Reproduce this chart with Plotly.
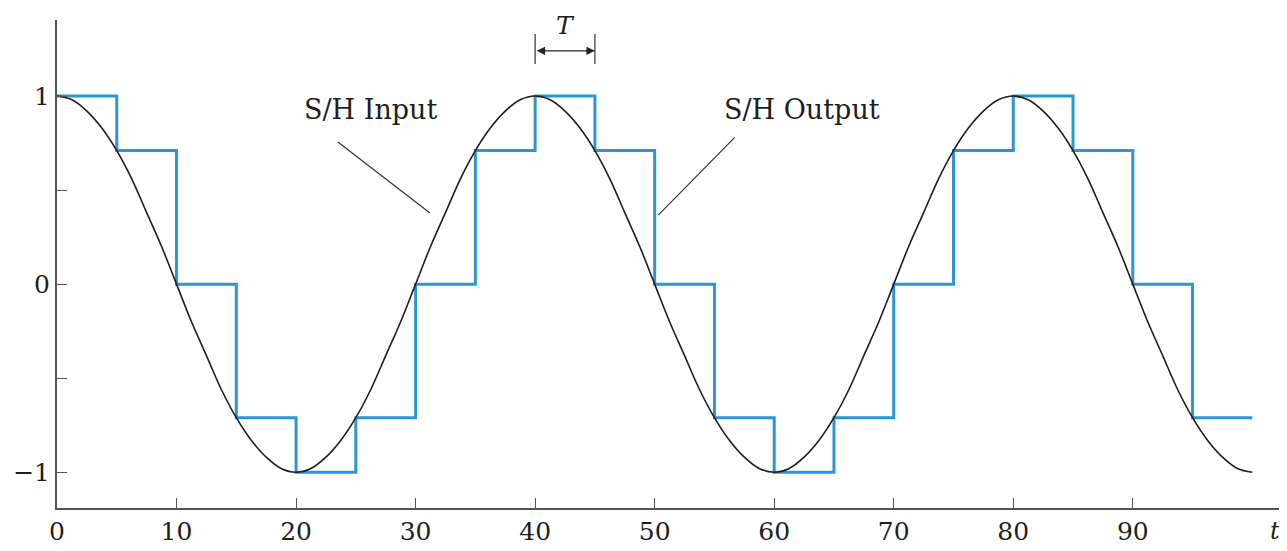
import plotly.graph_objects as go

# Sample-and-hold output (sample instants every T = 5)
sample_t = [0, 5, 10, 15, 20, 25, 30, 35, 40, 45, 50, 55, 60, 65, 70, 75, 80, 85, 90, 95, 100]
held_values = [1, 0.71, 0, -0.71, -1, -0.71, 0, 0.71, 1, 0.71, 0, -0.71, -1, -0.71, 0, 0.71, 1, 0.71, 0, -0.71, -0.71]

# Input signal at every 1.25 time units
input_t = [0, 1.25, 2.5, 3.75, 5, 6.25, 7.5, 8.75, 10,
           11.25, 12.5, 13.75, 15, 16.25, 17.5, 18.75, 20,
           21.25, 22.5, 23.75, 25, 26.25, 27.5, 28.75, 30,
           31.25, 32.5, 33.75, 35, 36.25, 37.5, 38.75, 40,
           41.25, 42.5, 43.75, 45, 46.25, 47.5, 48.75, 50,
           51.25, 52.5, 53.75, 55, 56.25, 57.5, 58.75, 60,
           61.25, 62.5, 63.75, 65, 66.25, 67.5, 68.75, 70,
           71.25, 72.5, 73.75, 75, 76.25, 77.5, 78.75, 80,
           81.25, 82.5, 83.75, 85, 86.25, 87.5, 88.75, 90,
           91.25, 92.5, 93.75, 95, 96.25, 97.5, 98.75, 100]
input_values = [1, 0.98, 0.92, 0.83, 0.71, 0.56, 0.38, 0.2, 0,
                -0.2, -0.38, -0.56, -0.71, -0.83, -0.92, -0.98, -1,
                -0.98, -0.92, -0.83, -0.71, -0.56, -0.38, -0.2, 0,
                0.2, 0.38, 0.56, 0.71, 0.83, 0.92, 0.98, 1,
                0.98, 0.92, 0.83, 0.71, 0.56, 0.38, 0.2, 0,
                -0.2, -0.38, -0.56, -0.71, -0.83, -0.92, -0.98, -1,
                -0.98, -0.92, -0.83, -0.71, -0.56, -0.38, -0.2, 0,
                0.2, 0.38, 0.56, 0.71, 0.83, 0.92, 0.98, 1,
                0.98, 0.92, 0.83, 0.71, 0.56, 0.38, 0.2, 0,
                -0.2, -0.38, -0.56, -0.71, -0.83, -0.92, -0.98, -1]

x_tick_vals = [0, 10, 20, 30, 40, 50, 60, 70, 80, 90]
x_tick_text = ["0", "10", "20", "30", "40", "50", "60", "70", "80", "90"]
y_tick_vals = [-1, -0.5, 0, 0.5, 1]
y_tick_text = ["\u22121", "", "0", "", "1"]

FONT = "DejaVu Serif"
BLUE = "rgb(45,150,210)"
INK = "#1e1e1e"

fig = go.Figure()
fig.add_trace(go.Scatter(x=sample_t, y=held_values, mode="lines", line=dict(shape="hv", color=BLUE, width=3),
                         showlegend=False, hoverinfo="skip"))
fig.add_trace(go.Scatter(x=input_t, y=input_values, mode="lines",
                         line=dict(shape="spline", smoothing=1.0, color=INK, width=1.6),
                         showlegend=False, hoverinfo="skip"))

# Leader lines
fig.add_shape(type="line", x0=23.5, y0=0.755, x1=31.2, y1=0.378, line=dict(color="#333", width=1.2))
fig.add_shape(type="line", x0=56.7, y0=0.78, x1=50.3, y1=0.367, line=dict(color="#333", width=1.2))
# T markers
fig.add_shape(type="line", x0=40, y0=1.17, x1=40, y1=1.33, line=dict(color="#333", width=1.2))
fig.add_shape(type="line", x0=45, y0=1.17, x1=45, y1=1.33, line=dict(color="#333", width=1.2))

fig.add_annotation(x=45, y=1.24, ax=40, ay=1.24, axref="x", ayref="y", xref="x", yref="y",
                   text="", showarrow=True, arrowhead=2, arrowside="end+start", arrowsize=1.3,
                   arrowwidth=1.3, arrowcolor="#222")
fig.add_annotation(x=42.5, y=1.375, text="<i>T</i>", showarrow=False,
                   font=dict(family=FONT, size=25, color=INK))
fig.add_annotation(x=26.2, y=0.93, text="S/H Input", showarrow=False,
                   font=dict(family=FONT, size=27, color=INK))
fig.add_annotation(x=62.3, y=0.93, text="S/H Output", showarrow=False,
                   font=dict(family=FONT, size=27, color=INK))
fig.add_annotation(x=0.99, y=-0.015, xref="paper", yref="paper", xanchor="center", yanchor="top",
                   text="<i>t</i>", showarrow=False, font=dict(family=FONT, size=24, color=INK))

fig.update_layout(
    width=1279, height=543,
    margin=dict(l=49, r=0, t=12, b=43),
    paper_bgcolor="white", plot_bgcolor="white",
    font=dict(family=FONT, size=25, color=INK),
    xaxis=dict(range=[0, 102.9], tickvals=x_tick_vals, ticktext=x_tick_text, ticks="inside",
               ticklen=10, tickwidth=1.2, tickcolor="#555", showline=True, linecolor="#555", linewidth=2,
               showgrid=False, zeroline=False, fixedrange=True, automargin=False),
    yaxis=dict(range=[-1.19, 1.404], tickvals=y_tick_vals, ticktext=y_tick_text, ticks="inside",
               ticklen=10, tickwidth=1.2, tickcolor="#555", showline=True, linecolor="#555", linewidth=2,
               showgrid=False, zeroline=False, fixedrange=True, ticklabelstandoff=0, automargin=False),
)

fig.write_html("out.html")
